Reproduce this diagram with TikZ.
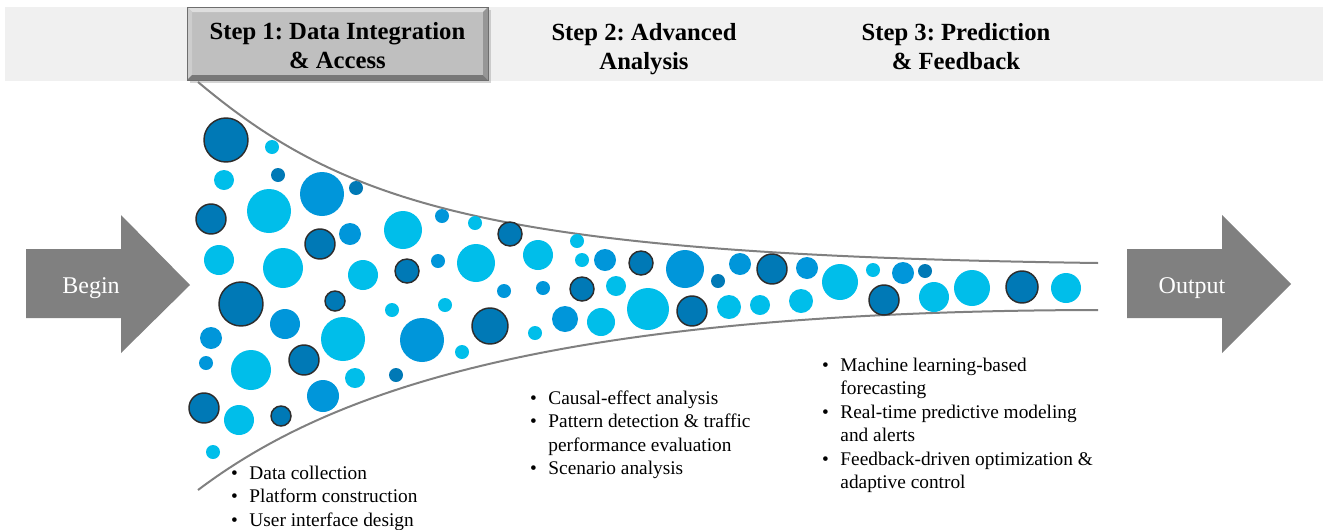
\documentclass[tikz,border=0pt]{standalone}
\usepackage{fontspec}
\setmainfont{Liberation Serif}
\frenchspacing
\tikzset{every picture/.style={line width=0.75pt}}
\tikzset{
  dark bubble/.style={fill={rgb, 255:red, 0; green, 121; blue, 182 }, draw={rgb, 255:red, 45; green, 45; blue, 45 }, line width=1.1pt},
  dark dot/.style={fill={rgb, 255:red, 0; green, 121; blue, 182 }},
  mid bubble/.style={fill={rgb, 255:red, 0; green, 150; blue, 218 }},
  light bubble/.style={fill={rgb, 255:red, 0; green, 190; blue, 234 }},
  funnel/.style={draw={rgb, 255:red, 128; green, 128; blue, 128 }, line width=1.5pt},
  big arrow/.style={fill={rgb, 255:red, 128; green, 128; blue, 128 }},
  head text/.style={anchor=base, inner sep=0pt, font=\fontsize{18.5}{21.75}\selectfont\bfseries},
  list text/.style={anchor=base west, inner sep=0pt, font=\fontsize{14.5}{17.6}\selectfont},
  arrow text/.style={anchor=base, inner sep=0pt, text=white, font=\fontsize{18}{21}\selectfont}
}
\begin{document}
\begin{tikzpicture}[x=0.75pt,y=0.75pt,yscale=-1,xscale=1]
\useasboundingbox (0,0) rectangle (1323,529);
%Shape: Rectangle [id:header band]
\fill [fill={rgb, 255:red, 240; green, 240; blue, 240 }] (5,7) rectangle (1323,81) ;
%Shape: Rectangle [id:step1 shadow]
\fill [fill={rgb, 255:red, 160; green, 160; blue, 160 }, fill opacity=0.45] (190,10) rectangle (491,83) ;
%Shape: Bevel [id:step1 box]
\fill [fill={rgb, 255:red, 191; green, 191; blue, 191 }] (187,7) rectangle (488,80) ;
\fill [fill={rgb, 255:red, 222; green, 222; blue, 222 }] (187,7) -- (488,7) -- (483,12) -- (192,12) -- cycle ;
\fill [fill={rgb, 255:red, 205; green, 205; blue, 205 }] (187,7) -- (192,12) -- (192,75) -- (187,80) -- cycle ;
\fill [fill={rgb, 255:red, 120; green, 120; blue, 120 }] (187,80) -- (192,75) -- (483,75) -- (488,80) -- cycle ;
\fill [fill={rgb, 255:red, 150; green, 150; blue, 150 }] (488,7) -- (483,12) -- (483,75) -- (488,80) -- cycle ;
\draw [draw={rgb, 255:red, 110; green, 110; blue, 110 }, line width=0.6pt] (187,7) rectangle (488,80) ;
% Text Node
\draw (337.5,39) node (step1) [head text] {\begin{tabular}[t]{@{}c@{}}Step 1: Data Integration\\ \& Access\end{tabular}};
% Text Node
\draw (644,40) node (step2) [head text] {\begin{tabular}[t]{@{}c@{}}Step 2: Advanced\\ Analysis\end{tabular}};
% Text Node
\draw (956,40) node (step3) [head text] {\begin{tabular}[t]{@{}c@{}}Step 3: Prediction\\ \& Feedback\end{tabular}};
%Shape: Right Arrow [id:begin arrow]
\fill [big arrow] (26,249) -- (121,249) -- (121,215) -- (190,285) -- (121,353) -- (121,318) -- (26,318) -- cycle ;
%Shape: Right Arrow [id:output arrow]
\fill [big arrow] (1127,249) -- (1222,249) -- (1222,215) -- (1291,284) -- (1222,353) -- (1222,318) -- (1127,318) -- cycle ;
% Text Node
\draw (91,293) node (begin) [arrow text] {Begin};
% Text Node
\draw (1192,293) node (output) [arrow text] {Output};
%Curve Lines [id:funnel top]
\draw [funnel] (198,82) .. controls (348,208) and (498,255) .. (1098,263) ;
%Curve Lines [id:funnel bottom]
\draw [funnel] (198,490) .. controls (328,392) and (548,311) .. (1098,310) ;
%Shape: Circle [dark bubbles]
\draw [dark bubble] (226,140) circle (22) ;
\draw [dark bubble] (211,219) circle (15) ;
\draw [dark bubble] (320,244) circle (15) ;
\draw [dark bubble] (510,234) circle (12) ;
\draw [dark bubble] (407,271) circle (12) ;
\draw [dark bubble] (241,304) circle (22) ;
\draw [dark bubble] (335,301) circle (10) ;
\draw [dark bubble] (490,326) circle (18) ;
\draw [dark bubble] (304,360) circle (15) ;
\draw [dark bubble] (204,408) circle (15) ;
\draw [dark bubble] (281,416) circle (10) ;
\draw [dark bubble] (582,289) circle (12) ;
\draw [dark bubble] (641,263) circle (12) ;
\draw [dark bubble] (772,269) circle (15) ;
\draw [dark bubble] (692,311) circle (15) ;
\draw [dark bubble] (884,300) circle (15) ;
\draw [dark bubble] (1022,287) circle (16) ;
%Shape: Circle [dark dots]
\fill [dark dot] (278,175) circle (7) ;
\fill [dark dot] (356,188) circle (7) ;
\fill [dark dot] (396,375) circle (7) ;
\fill [dark dot] (718,281) circle (7) ;
\fill [dark dot] (925,271) circle (7) ;
%Shape: Circle [mid bubbles]
\fill [mid bubble] (322,194) circle (22) ;
\fill [mid bubble] (350,234) circle (11) ;
\fill [mid bubble] (442,216) circle (7) ;
\fill [mid bubble] (438,261) circle (7) ;
\fill [mid bubble] (504,291) circle (7) ;
\fill [mid bubble] (543,288) circle (7) ;
\fill [mid bubble] (285,324) circle (15) ;
\fill [mid bubble] (422,340) circle (22) ;
\fill [mid bubble] (565,319) circle (13) ;
\fill [mid bubble] (211,338) circle (11) ;
\fill [mid bubble] (206,363) circle (7) ;
\fill [mid bubble] (323,396) circle (16) ;
\fill [mid bubble] (605,260) circle (11) ;
\fill [mid bubble] (685,269) circle (19) ;
\fill [mid bubble] (740,264) circle (11) ;
\fill [mid bubble] (807,268) circle (11) ;
\fill [mid bubble] (903,273) circle (11) ;
%Shape: Circle [light bubbles]
\fill [light bubble] (272,147) circle (7) ;
\fill [light bubble] (224,180) circle (10) ;
\fill [light bubble] (269,211) circle (22) ;
\fill [light bubble] (403,230) circle (19) ;
\fill [light bubble] (475,223) circle (7) ;
\fill [light bubble] (538,255) circle (15) ;
\fill [light bubble] (219,260) circle (15) ;
\fill [light bubble] (283,268) circle (20) ;
\fill [light bubble] (363,275) circle (15) ;
\fill [light bubble] (476,263) circle (19) ;
\fill [light bubble] (392,310) circle (7) ;
\fill [light bubble] (445,305) circle (7) ;
\fill [light bubble] (343,339) circle (22) ;
\fill [light bubble] (535,333) circle (7) ;
\fill [light bubble] (251,370) circle (20) ;
\fill [light bubble] (462,352) circle (7) ;
\fill [light bubble] (355,378) circle (10) ;
\fill [light bubble] (239,420) circle (15) ;
\fill [light bubble] (213,452) circle (7) ;
\fill [light bubble] (577,241) circle (7) ;
\fill [light bubble] (582,260) circle (7) ;
\fill [light bubble] (616,286) circle (10) ;
\fill [light bubble] (601,322) circle (14) ;
\fill [light bubble] (648,309) circle (21) ;
\fill [light bubble] (729,307) circle (12) ;
\fill [light bubble] (760,305) circle (10) ;
\fill [light bubble] (801,301) circle (12) ;
\fill [light bubble] (840,282) circle (18) ;
\fill [light bubble] (873,270) circle (7) ;
\fill [light bubble] (934,297) circle (15) ;
\fill [light bubble] (972,288) circle (18) ;
\fill [light bubble] (1066,288) circle (15) ;
% Text Node
\draw (230.6,479.5) node (list1) [list text] {\begin{tabular}[t]{@{}l@{\hspace{8.7pt}}l@{}}
\textbullet & Data collection\\
\textbullet & Platform construction\\
\textbullet & User interface design
\end{tabular}};
% Text Node
\draw (529.6,404.5) node (list2) [list text] {\begin{tabular}[t]{@{}l@{\hspace{8.7pt}}l@{}}
\textbullet & Causal-effect analysis\\
\textbullet & Pattern detection \& traffic\\
 & performance evaluation\\
\textbullet & Scenario analysis
\end{tabular}};
% Text Node
\draw (821.6,371.5) node (list3) [list text] {\begin{tabular}[t]{@{}l@{\hspace{8.7pt}}l@{}}
\textbullet & Machine learning-based\\
 & forecasting\\
\textbullet & Real-time predictive modeling\\
 & and alerts\\
\textbullet & Feedback-driven optimization \&\\
 & adaptive control
\end{tabular}};
\end{tikzpicture}
\end{document}
